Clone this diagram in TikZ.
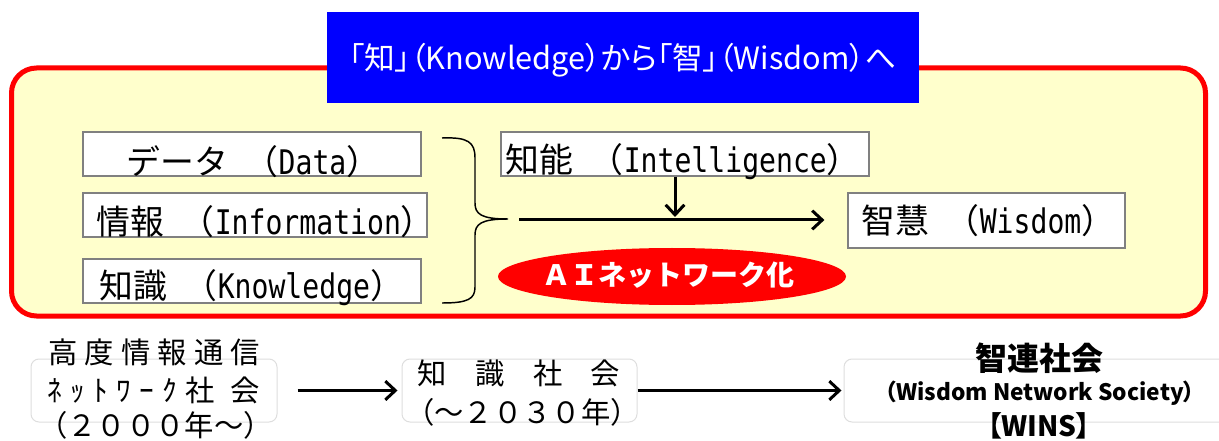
\documentclass[tikz,border=0pt]{standalone}
\usepackage{fontspec}
\setmainfont{Noto Sans CJK JP}
\newfontfamily\mn[FakeStretch=0.83]{DejaVu Sans Mono}
\newfontfamily\jpp[RawFeature=+palt]{Noto Sans CJK JP}
\usetikzlibrary{arrows.meta,shapes.geometric}
\definecolor{frameyellow}{HTML}{FFFFCC}
\definecolor{boxgray}{HTML}{808080}
\definecolor{titleblue}{HTML}{0000FF}
\tikzset{
  wbox/.style={draw=boxgray, fill=white, line width=0.9pt, inner sep=0pt},
  softbox/.style={draw=black!13, fill=white, rounded corners=6pt, line width=0.75pt, inner sep=0pt, minimum height=47.25pt},
  btxt/.style={anchor=west, inner sep=0pt, font=\fontsize{25.4pt}{30pt}\selectfont},
  ltxt/.style={anchor=west, inner sep=0pt, font=\fontsize{22pt}{26pt}\selectfont},
  arr/.style={line width=2.25pt, -{Straight Barb[length=7.5pt,width=14pt]}},
}
\begin{document}
\begin{tikzpicture}[x=0.75pt, y=-0.75pt]
\useasboundingbox (0,0) rectangle (1219,441);
% main frame
\node[draw=red, line width=3.75pt, fill=frameyellow, rounded corners=18.75pt,
      minimum width=895.5pt, minimum height=186pt, inner sep=0pt] (frame) at (608.5,192) {};
% title
\node[fill=titleblue, minimum width=444pt, minimum height=68.25pt, inner sep=0pt] (title) at (623,57.5) {};
\node[text=white, inner sep=0pt, font=\jpp\fontsize{23pt}{28pt}\selectfont] (titletext) at (622.5,60)
  {「知」（Knowledge）から「智」（Wisdom）へ};
% left boxes
\node[wbox, minimum width=253.5pt, minimum height=33pt] (dat) at (252,154) {};
\node[btxt] (datt) at (126,162) {データ\hspace{0.5em}（{\mn Data}）};
\node[wbox, minimum width=258pt, minimum height=33pt] (inf) at (255,215) {};
\node[btxt] (inft) at (96,222) {情報\hspace{0.5em}（{\mn Information}）};
\node[wbox, minimum width=253.5pt, minimum height=33pt] (kno) at (252,281) {};
\node[btxt] (knot) at (99,288) {知識\hspace{0.5em}（{\mn Knowledge}）};
% intelligence and wisdom
\node[wbox, minimum width=276pt, minimum height=33pt] (int) at (685,154) {};
\node[btxt] (intt) at (505,162) {知能\hspace{0.5em}（{\mn Intelligence}）};
\node[wbox, minimum width=207.75pt, minimum height=41.25pt] (wis) at (986.5,220.5) {};
\node[btxt] (wist) at (861,221) {智慧\hspace{0.5em}（{\mn Wisdom}）};
% brace
\coordinate (tip) at (508,219);
\draw[line width=1.1pt] (442,138) .. controls (468,137) and (475,142) .. (475,158) -- (475,203)
  .. controls (475,214) and (481,219) .. (tip)
  .. controls (481,219) and (475,224) .. (475,235) -- (475,287)
  .. controls (475,299) and (468,303) .. (442,303);
% arrows
\coordinate (mstart) at (519,220);
\draw[arr, shorten >=17.25pt] (mstart) -- (wis.west |- mstart);
\coordinate (dj) at (675,217);
\draw[arr] (int.south -| dj) -- (dj);
% AI ellipse
\node[ellipse, fill=red, minimum width=261pt, minimum height=42.75pt, inner sep=0pt] (ai) at (672,276.5) {};
\node[text=white, inner sep=0pt, font=\bfseries\fontsize{21pt}{25pt}\selectfont] (ait) at (668,275) {ＡＩネットワーク化};
% bottom societies
\node[softbox, minimum width=184.5pt] (s1) at (154,390.5) {};
\node[softbox, minimum width=176.25pt] (s2) at (519.5,390.5) {};
\begin{scope}
\clip (0,0) rectangle (1219,441);
\node[softbox, minimum width=297pt] (s3) at (1042,390.5) {};
\end{scope}
\node[ltxt] (s1a) at (48,352) {\makebox[159pt][s]{高\hfil 度\hfil 情\hfil 報\hfil 通\hfil 信}};
\node[ltxt] (s1b) at (47,390) {\makebox[159.75pt][s]{ﾈ\hfil ｯ\hfil ﾄ\hfil ﾜ\hfil ｰ\hfil ｸ\hfil 社\hfil\hfil 会}};
\node[ltxt] (s1c) at (38,425) {\makebox[171pt][s]{（\hfil ２\hfil ０\hfil ０\hfil ０\hfil 年\hfil ～\hfil ）}};
\node[ltxt] (s2a) at (417,373) {\makebox[152.25pt][s]{知\hfil 識\hfil 社\hfil 会}};
\node[ltxt] (s2b) at (405,412) {\makebox[167.25pt][s]{（\hfil ～\hfil ２\hfil ０\hfil ３\hfil ０\hfil 年\hfil ）}};
\node[inner sep=0pt, font=\bfseries\fontsize{24pt}{28pt}\selectfont] (s3a) at (1039,358) {智連社会};
\node[inner sep=0pt, font=\jpp\bfseries\fontsize{17pt}{20pt}\selectfont] (s3b) at (1040,393) {（Wisdom Network Society）};
\node[inner sep=0pt, font=\jpp\bfseries\fontsize{21pt}{24pt}\selectfont] (s3c) at (1039,426) {【WINS】};
\draw[arr, shorten <=15pt, shorten >=3pt] (s1.east) -- (s2.west);
\draw[arr, shorten >=1.5pt] (s2.east) -- (s3.west);
\end{tikzpicture}
\end{document}
